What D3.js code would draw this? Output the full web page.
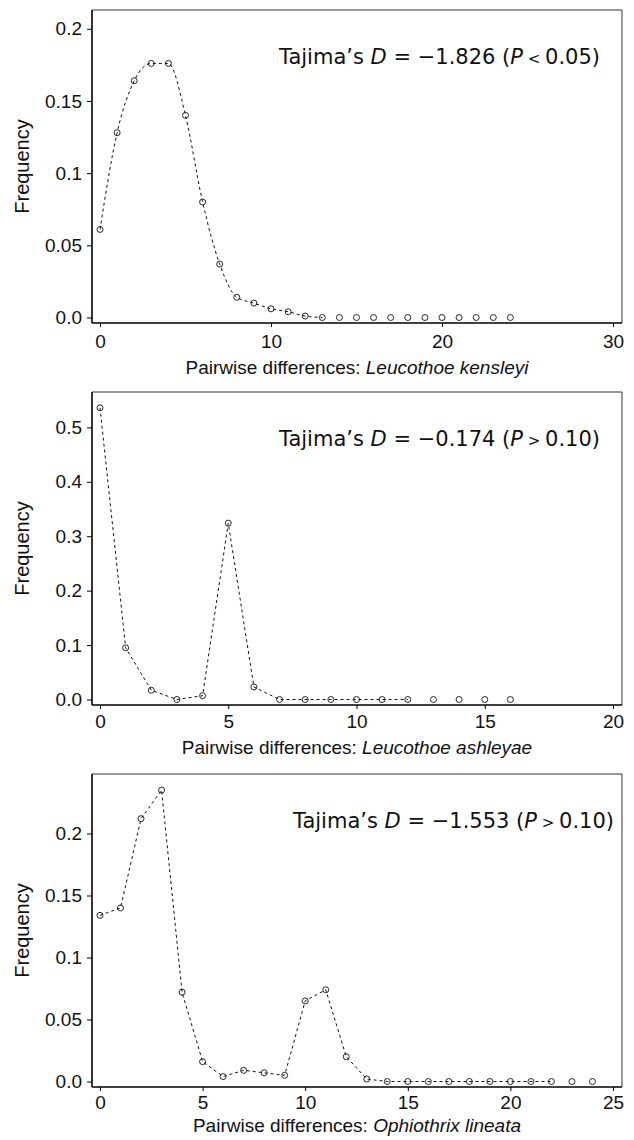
<!DOCTYPE html>
<html>
<head>
<meta charset="utf-8">
<script src="https://cdnjs.cloudflare.com/ajax/libs/d3/7.8.5/d3.min.js"></script>
<style>
  body { margin: 0; background: #fff; }
  text { font-family: "Liberation Sans", Arial, sans-serif; fill: #111; }
  .note, .note tspan { font-family: "DejaVu Sans", sans-serif; }
</style>
</head>
<body>
<svg id="chart" width="634" height="1140"></svg>
<script>
// mismatch distributions: frequency for 0,1,2,... pairwise differences
var kensleyiFreq = [0.061, 0.128, 0.164, 0.176, 0.176, 0.140, 0.080, 0.037, 0.014, 0.010, 0.006, 0.004, 0.001, 0.000,
                    0, 0, 0, 0, 0, 0, 0, 0, 0, 0, 0];
var ashleyaeFreq = [0.536, 0.095, 0.017, 0.000, 0.007, 0.324, 0.023, 0, 0, 0, 0, 0, 0, 0, 0, 0, 0];
var lineataFreq  = [0.134, 0.140, 0.212, 0.235, 0.072, 0.016, 0.004, 0.009, 0.007, 0.005, 0.065, 0.074, 0.020, 0.002,
                    0, 0, 0, 0, 0, 0, 0, 0, 0, 0, 0];

// how far the dashed line runs (last index joined)
var lineEnds = [13, 12, 22];

var kensleyiTicksX = [0, 10, 20, 30];
var ashleyaeTicksX = [0, 5, 10, 15, 20];
var lineataTicksX  = [0, 5, 10, 15, 20, 25];
var kensleyiTicksY = [0, 0.05, 0.1, 0.15, 0.2];
var ashleyaeTicksY = [0, 0.1, 0.2, 0.3, 0.4, 0.5];
var lineataTicksY  = [0, 0.05, 0.1, 0.15, 0.2];

var species = ["Leucothoe kensleyi", "Leucothoe ashleyae", "Ophiothrix lineata"];
var tajimaD = ["\u22121.826", "\u22120.174", "\u22121.553"];
var tajimaSign = ["<", ">", ">"];
var tajimaP = ["0.05", "0.10", "0.10"];

var svg = d3.select("#chart");
svg.append("rect").attr("width", 634).attr("height", 1140).attr("fill", "#fff");

var panels = [
  { freq: kensleyiFreq, ticksX: kensleyiTicksX, ticksY: kensleyiTicksY, xMax: 30, yMax: 0.213, top: 10,  smooth: true,  noteRight: 600, tickPad: 8, titleOff: 51 },
  { freq: ashleyaeFreq, ticksX: ashleyaeTicksX, ticksY: ashleyaeTicksY, xMax: 20, yMax: 0.565, top: 392, smooth: false, noteRight: 600, tickPad: 6, titleOff: 49 },
  { freq: lineataFreq,  ticksX: lineataTicksX,  ticksY: lineataTicksY,  xMax: 25, yMax: 0.248, top: 774, smooth: false, noteRight: 614, tickPad: 5, titleOff: 45 }
];

var left = 92, right = 622, plotH = 313;

function fmtY(v) { return v === 0 ? "0.0" : String(v); }

panels.forEach(function(p, i) {
  var bottom = p.top + plotH;
  var g = svg.append("g");

  var x = d3.scaleLinear().domain([0, p.xMax]).range([left + 8, right - 9]);
  var y = d3.scaleLinear().domain([0, p.yMax]).range([bottom - 5.5, p.top]);

  // frame: thin top/right, heavier axes
  g.append("line").attr("x1", left).attr("x2", right).attr("y1", p.top).attr("y2", p.top)
    .attr("stroke", "#333").attr("stroke-width", 1);
  g.append("line").attr("x1", right).attr("x2", right).attr("y1", p.top).attr("y2", bottom)
    .attr("stroke", "#333").attr("stroke-width", 1);

  var xAxis = d3.axisBottom(x).tickValues(p.ticksX).tickSize(4).tickPadding(p.tickPad).tickFormat(d3.format("d"));
  var yAxis = d3.axisLeft(y).tickValues(p.ticksY).tickSize(5).tickPadding(5).tickFormat(fmtY);

  var gx = g.append("g").attr("transform", "translate(0," + bottom + ")").call(xAxis);
  gx.select(".domain").attr("d", "M" + left + ",0H" + right).attr("stroke-width", 1.6);
  var gy = g.append("g").attr("transform", "translate(" + left + ",0)").call(yAxis);
  gy.select(".domain").attr("d", "M0," + p.top + "V" + bottom).attr("stroke-width", 1.6);

  [gx, gy].forEach(function(a) {
    a.selectAll("text").attr("font-family", "Liberation Sans, Arial, sans-serif").attr("font-size", 19).attr("fill", "#111");
    a.selectAll(".tick line").attr("stroke-width", 1);
  });

  // y title
  g.append("text")
    .attr("transform", "translate(29," + ((p.top + bottom) / 2) + ") rotate(-90)")
    .attr("text-anchor", "middle").attr("font-size", 20)
    .text("Frequency");

  // x title
  var xt = g.append("text").attr("x", (left + right) / 2).attr("y", bottom + p.titleOff)
    .attr("text-anchor", "middle").attr("font-size", 19);
  xt.append("tspan").text("Pairwise differences: ");
  xt.append("tspan").attr("font-style", "italic").text(species[i]);

  // Tajima's D note
  var nt = g.append("text").attr("class", "note").attr("x", p.noteRight).attr("y", p.top + 54)
    .attr("text-anchor", "end").attr("font-size", 21);
  nt.append("tspan").text("Tajima\u2019s ");
  nt.append("tspan").attr("font-style", "italic").text("D");
  nt.append("tspan").text(" = " + tajimaD[i] + " (");
  nt.append("tspan").attr("font-style", "italic").text("P");
  nt.append("tspan").attr("font-size", 15).text(" " + tajimaSign[i] + " ");
  nt.append("tspan").text(tajimaP[i] + ")");

  // circles first, dashed line drawn over them
  var pts = p.freq.map(function(v, k) { return [k, v]; });

  g.selectAll("circle").data(pts).enter().append("circle")
    .attr("cx", function(d) { return x(d[0]); })
    .attr("cy", function(d) { return y(d[1]); })
    .attr("r", 3).attr("fill", "#fff").attr("stroke", "#111").attr("stroke-width", 0.9);

  var line = d3.line()
    .x(function(d) { return x(d[0]); })
    .y(function(d) { return y(d[1]); })
    .curve(p.smooth ? d3.curveMonotoneX : d3.curveLinear);

  g.append("path").datum(pts.slice(0, lineEnds[i] + 1))
    .attr("d", line).attr("fill", "none").attr("stroke", "#111")
    .attr("stroke-width", 1).attr("stroke-dasharray", "3,3");
});
</script>
</body>
</html>
